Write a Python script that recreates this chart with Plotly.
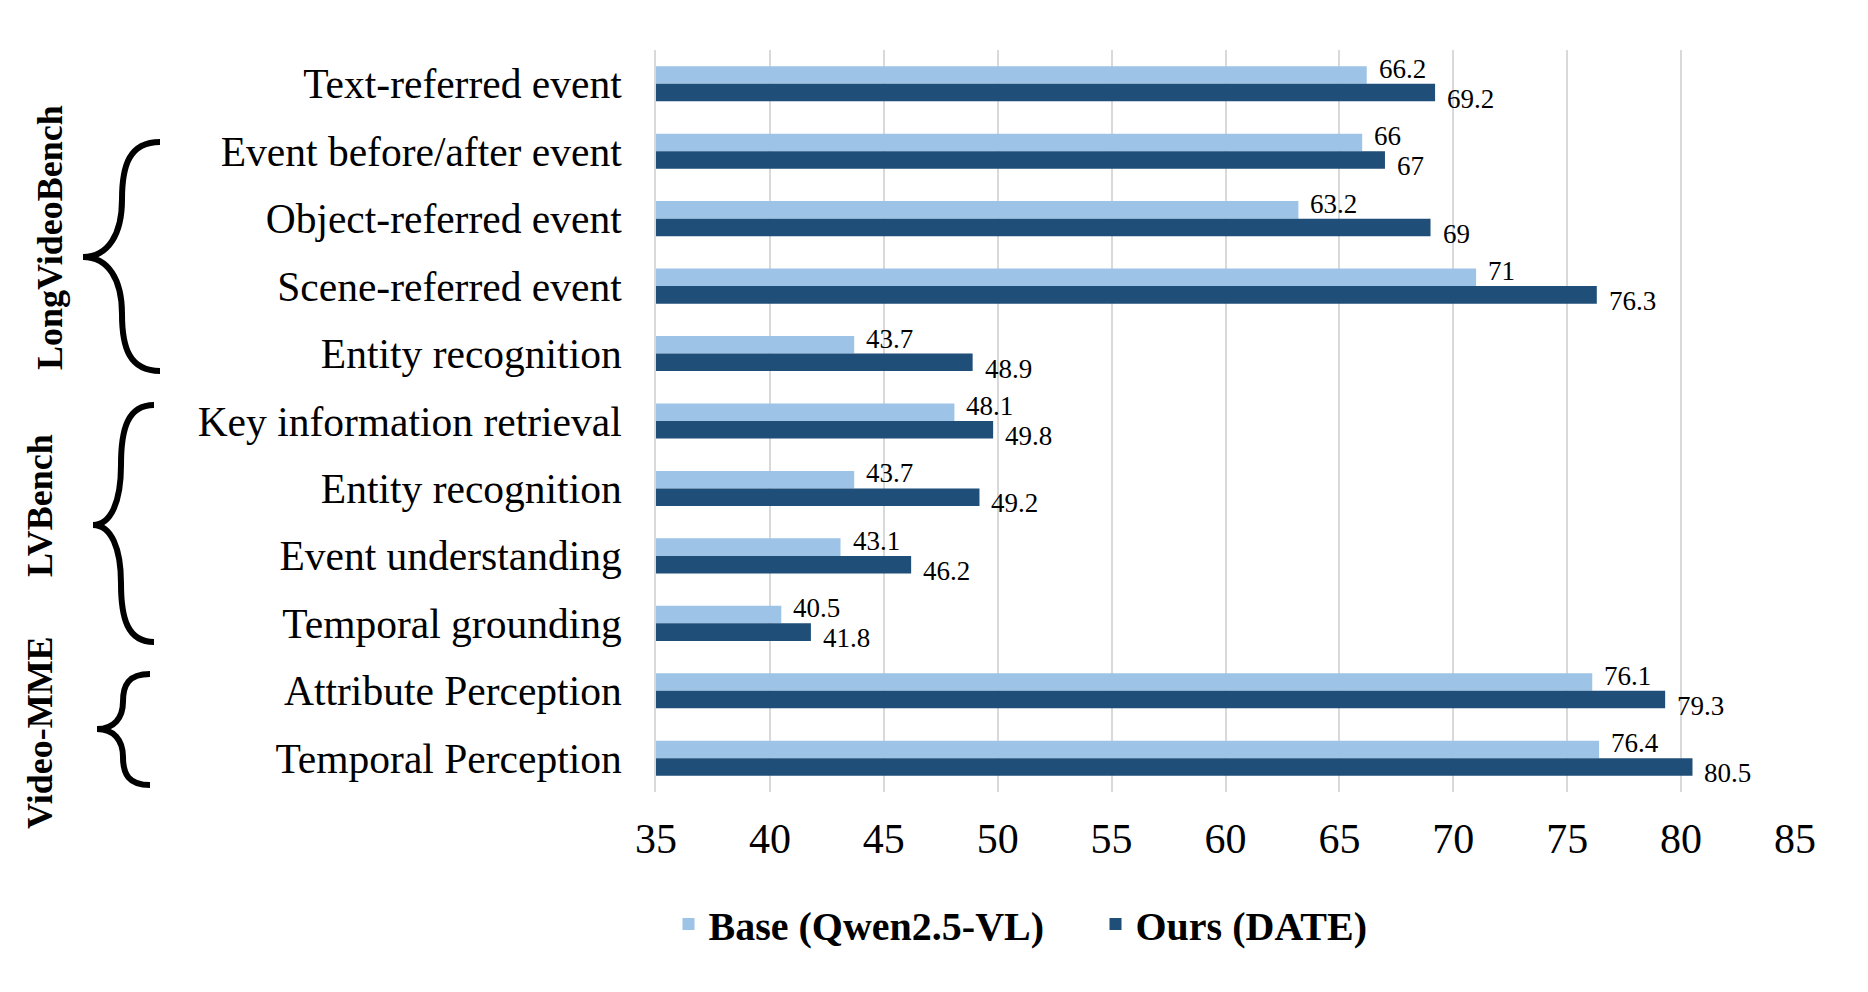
import plotly.graph_objects as go

categories = [
    "Text-referred event", "Event before/after event", "Object-referred event",
    "Scene-referred event", "Entity recognition", "Key information retrieval",
    "Entity recognition", "Event understanding", "Temporal grounding",
    "Attribute Perception", "Temporal Perception",
]
base_values = [66.2, 66, 63.2, 71, 43.7, 48.1, 43.7, 43.1, 40.5, 76.1, 76.4]
ours_values = [69.2, 67, 69, 76.3, 48.9, 49.8, 49.2, 46.2, 41.8, 79.3, 80.5]
series_names = ["Base (Qwen2.5-VL)", "Ours (DATE)"]
x_ticks = [35, 40, 45, 50, 55, 60, 65, 70, 75, 80, 85]
groups = ["LongVideoBench", "LVBench", "Video-MME"]

# page body has an 8px margin; lay out in screen pixels and compensate
OFF = 8
W, H = 1868 - 2 * OFF, 992 - 2 * OFF
PL, PR, PT, PB = 656, 1795, 50, 792          # plot area in screen pixels
L, T = PL - OFF, PT - OFF
R, B = W - (PR - OFF), H - (PB - OFF)
PW, PH = PR - PL, PB - PT

def px(x):
    return (x - PL) / PW

def py(y):
    return (PB - y) / PH

FONT = "Liberation Serif, Times New Roman, serif"
LIGHT = "#9DC3E6"
DARK = "#1F4E79"

idx = list(range(len(categories)))

fig = go.Figure()
fig.add_trace(go.Bar(y=idx, x=base_values, orientation="h", name=series_names[0],
                     marker=dict(color=LIGHT, line=dict(width=0))))
fig.add_trace(go.Bar(y=idx, x=ours_values, orientation="h", name=series_names[1],
                     marker=dict(color=DARK, line=dict(width=0))))

annotations = []
for i in idx:
    annotations.append(dict(x=base_values[i], y=i, xref="x", yref="y", text=str(base_values[i]),
                            showarrow=False, xanchor="left", yanchor="middle", xshift=10, yshift=15,
                            font=dict(family=FONT, size=27, color="black")))
    annotations.append(dict(x=ours_values[i], y=i, xref="x", yref="y", text=str(ours_values[i]),
                            showarrow=False, xanchor="left", yanchor="middle", xshift=10, yshift=-15,
                            font=dict(family=FONT, size=27, color="black")))

# group labels (rotated)
group_pos = [(50, 238), (40, 506), (40, 733)]
for g, (gx, gy) in zip(groups, group_pos):
    annotations.append(dict(x=px(gx), y=py(gy), xref="paper", yref="paper", text="<b>" + g + "</b>",
                            showarrow=False, textangle=-90, xanchor="center", yanchor="middle",
                            font=dict(family=FONT, size=36, color="black")))

def brace(x_end, x_stem, x_tip, y_top, y_tip, y_bot):
    def P(x, y):
        return f"{px(x):.5f},{py(y):.5f}"
    h1 = y_tip - y_top
    h2 = y_bot - y_tip
    ex = x_end - 0.8 * (x_end - x_stem)
    tx = x_stem - 0.35 * (x_stem - x_tip)
    d = f"M {P(x_end, y_top)} "
    d += f"C {P(ex, y_top)} {P(x_stem, y_top + 0.2 * h1)} {P(x_stem, y_top + 0.5 * h1)} "
    d += f"C {P(x_stem, y_top + 0.8 * h1)} {P(tx, y_tip)} {P(x_tip, y_tip)} "
    d += f"C {P(tx, y_tip)} {P(x_stem, y_tip + 0.2 * h2)} {P(x_stem, y_tip + 0.5 * h2)} "
    d += f"C {P(x_stem, y_tip + 0.8 * h2)} {P(ex, y_bot)} {P(x_end, y_bot)}"
    return d

shapes = []
for args in [(160, 122, 83, 142, 257, 371), (154, 121, 93, 405, 525, 642), (150, 123, 97, 674, 729, 785)]:
    shapes.append(dict(type="path", xref="paper", yref="paper", path=brace(*args),
                       line=dict(color="black", width=6), fillcolor="rgba(0,0,0,0)"))

fig.update_layout(
    width=W, height=H,
    margin=dict(l=L, r=R, t=T, b=B, autoexpand=False),
    paper_bgcolor="white", plot_bgcolor="white",
    barmode="group", bargap=0.48, bargroupgap=0,
    font=dict(family=FONT, color="black"),
    xaxis=dict(range=[35, 85], tickvals=x_ticks, showgrid=True, gridcolor="#D9D9D9", gridwidth=2,
               zeroline=False, showline=False, ticks="", automargin=False,
               tickfont=dict(family=FONT, size=42, color="black"), ticklabelstandoff=18),
    yaxis=dict(range=[10.5, -0.5], tickvals=idx, ticktext=categories, showgrid=False, zeroline=False,
               showline=True, linecolor="#D9D9D9", linewidth=2, ticks="", automargin=False,
               tickfont=dict(family=FONT, size=41.5, color="black"), ticklabelstandoff=24),
    legend=dict(orientation="h", x=px(668.5), xanchor="left", y=py(924), yanchor="middle",
                font=dict(family=FONT, size=40, color="black", weight="bold"),
                entrywidth=382, entrywidthmode="pixels",
                traceorder="normal", bgcolor="rgba(0,0,0,0)"),
    annotations=annotations,
    shapes=shapes,
)

fig.write_html("out.html")
